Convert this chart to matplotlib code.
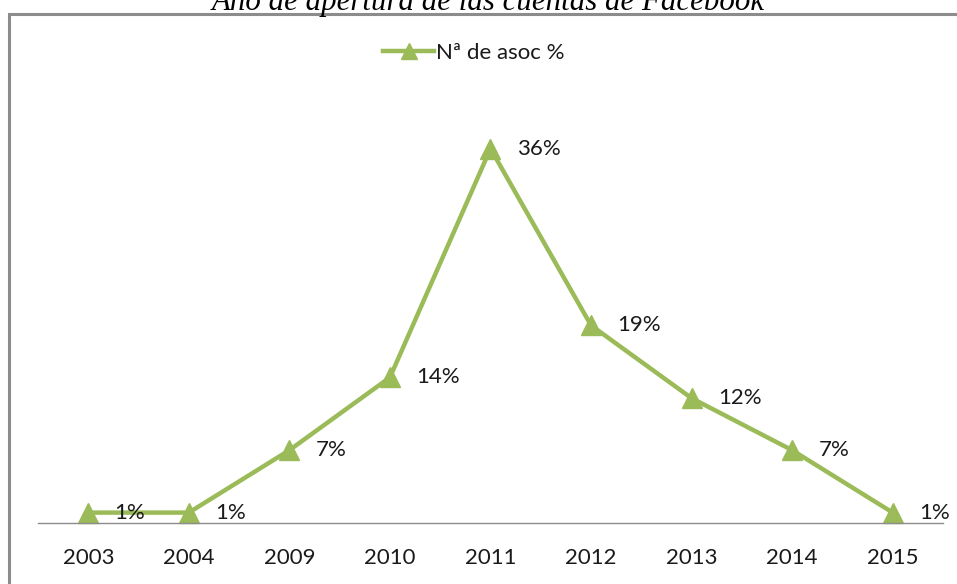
import matplotlib.pyplot as plt
from matplotlib.patches import Rectangle

years = ['2003', '2004', '2009', '2010', '2011', '2012', '2013', '2014', '2015']
pct = [1, 1, 7, 14, 36, 19, 12, 7, 1]
labels = ['1%', '1%', '7%', '14%', '36%', '19%', '12%', '7%', '1%']

green = '#9BBB59'
W, H = 957, 584

fig = plt.figure(figsize=(W / 100, H / 100), dpi=100)
fig.patch.set_facecolor('white')

# outer chart frame (runs off the right and bottom edges)
fig.patches.append(Rectangle((9 / W, -0.1), 1.1, (H - 14) / H + 0.1,
                             transform=fig.transFigure, fill=False,
                             edgecolor='#8c8c8c', linewidth=2.2))

fig.text(488 / W, (H - 10) / H, 'Año de apertura de las cuentas de Facebook',
         family='Liberation Serif', style='italic', fontsize=22.2,
         ha='center', va='baseline')

ax = fig.add_axes([38 / W, (H - 523) / H, 905 / W, 416 / H])
x = list(range(len(years)))
ax.plot(x, pct, color=green, linewidth=3.2, marker='^', markersize=15,
        label='Nª de asoc %', clip_on=False)

for xi, yi, lab in zip(x, pct, labels):
    ax.annotate(lab, (xi, yi), xytext=(19, 0), textcoords='offset points',
                family='Lato', fontsize=16, color='#1a1a1a',
                ha='left', va='center')

ax.set_xlim(-0.5, len(years) - 0.5)
ax.set_ylim(0, 40)
ax.set_xticks(x)
ax.set_xticklabels(years, family='Lato', fontsize=16, color='#1a1a1a')
ax.set_yticks([])
ax.tick_params(axis='x', length=0, pad=18)
for s in ['top', 'right', 'left']:
    ax.spines[s].set_visible(False)
ax.spines['bottom'].set_color('#8c8c8c')
ax.spines['bottom'].set_linewidth(1)

leg = fig.legend(loc='center', bbox_to_anchor=(474 / W, (H - 53) / H),
                 frameon=False, prop={'family': 'Lato', 'size': 16},
                 handlelength=2.3, handletextpad=0.1, markerscale=0.8)
for t in leg.get_texts():
    t.set_color('#1a1a1a')

fig.savefig('out.png', dpi=100)
